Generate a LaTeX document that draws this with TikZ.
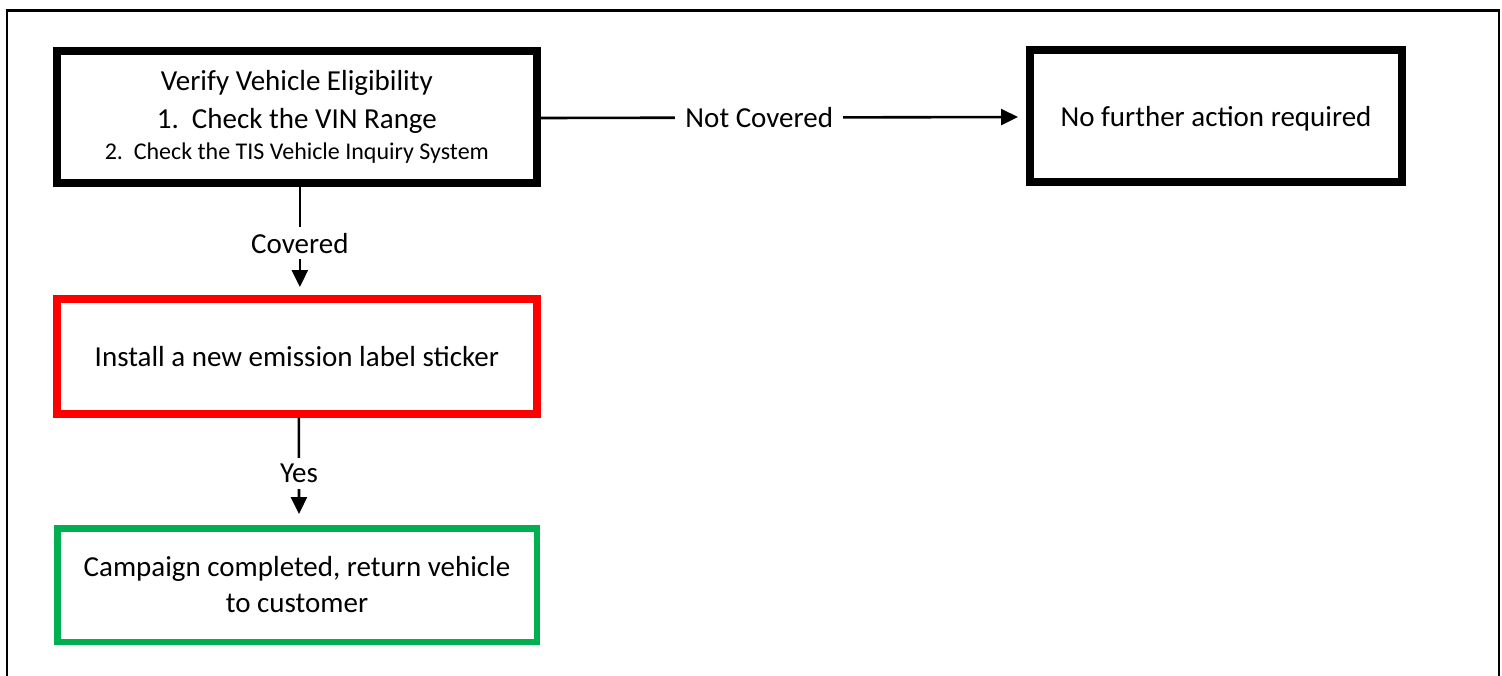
\documentclass[tikz,border=0pt]{standalone}
\usepackage{fontspec}
\setmainfont{Carlito}
\usetikzlibrary{arrows.meta}
\definecolor{boxred}{RGB}{255,0,0}
\definecolor{boxgreen}{RGB}{0,176,80}
\tikzset{
  px/.style={x=0.5pt,y=-0.5pt},
  bodyfont/.style={font=\fontsize{14.5}{18}\selectfont},
  stepbox/.style={draw=black, line width=4pt, rectangle, align=center,
    inner sep=0pt, bodyfont},
  flow/.style={draw=black, line width=1.3pt,
    -{Triangle[length=8.5pt,width=8pt]}},
  flowlabel/.style={fill=white, inner sep=3pt, bodyfont},
}
\begin{document}
\begin{tikzpicture}[px]
\useasboundingbox (0,0) rectangle (1502,675);
\clip (0,0) rectangle (1502,675);
% page frame (runs past the bottom edge)
\draw[line width=1.25pt] (7,720) -- (7,10.7) -- (1499,10.7) -- (1499,720);

% process boxes
\node[stepbox, minimum width=240.15pt, minimum height=66pt] (verify) at (296.85,117)
  {Verify Vehicle Eligibility\\[1pt]
   1.\ \ Check the VIN Range\\[-2.5pt]
   {\fontsize{12}{15}\selectfont 2.\ \ Check the TIS Vehicle Inquiry System}};
\node[stepbox, minimum width=186pt, minimum height=66pt, text depth=0pt] (none) at (1216,116)
  {No further action required};
\node[stepbox, draw=boxred, minimum width=240.15pt, minimum height=57.35pt] (install) at (296.85,356.35)
  {Install a new emission label sticker};
\node[stepbox, draw=boxgreen, line width=3.25pt, minimum width=239.75pt, minimum height=56.75pt] (done) at (297,585)
  {Campaign completed, return vehicle\\to customer};

% connectors
\draw[flow, shorten >=4pt] ([yshift=-0.5pt]verify.east) -- node[flowlabel, pos=0.45, inner xsep=5pt] {Not Covered} ([yshift=-0.5pt]none.west);
\draw[flow, shorten >=4pt] ([xshift=1.5pt]verify.south) -- node[flowlabel, pos=0.52] {Covered} ([xshift=1.5pt]install.north);
\draw[flow, shorten >=5.5pt] ([xshift=1pt]install.south) -- node[flowlabel, pos=0.52] {Yes} ([xshift=1pt]done.north);
\end{tikzpicture}
\end{document}
